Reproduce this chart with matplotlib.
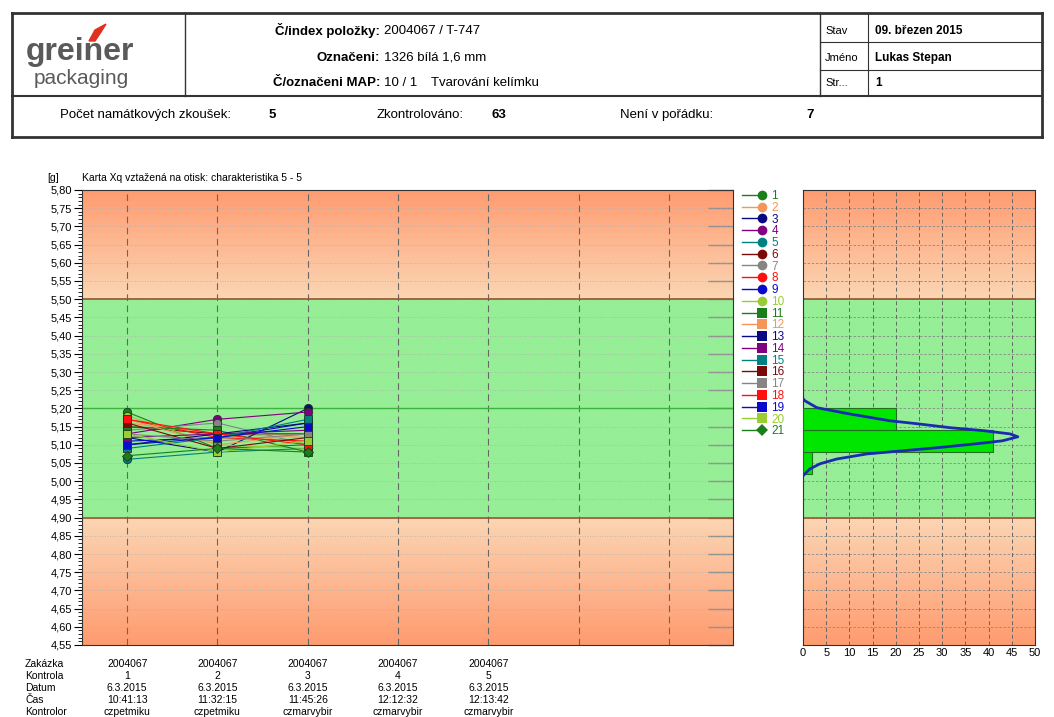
import numpy as np
import matplotlib
matplotlib.use("Agg")
import matplotlib.pyplot as plt
import matplotlib.transforms as mtransforms
from matplotlib.lines import Line2D
from matplotlib.patches import Polygon
from matplotlib.legend_handler import HandlerLine2D
from matplotlib.ticker import MultipleLocator, FixedLocator

plt.rcParams['font.family'] = ['Liberation Sans', 'DejaVu Sans']

W, H = 1054, 717

# values (weight in g per cavity, three checks)
checks = [1, 2, 3]
series_names = [str(i) for i in range(1, 22)]
series_values = [
    [5.19, 5.09, 5.10],
    [5.16, 5.13, 5.12],
    [5.12, 5.08, 5.20],
    [5.13, 5.17, 5.19],
    [5.06, 5.08, 5.09],
    [5.15, 5.13, 5.13],
    [5.14, 5.16, 5.10],
    [5.17, 5.12, 5.11],
    [5.11, 5.12, 5.16],
    [5.18, 5.10, 5.09],
    [5.15, 5.14, 5.08],
    [5.17, 5.10, 5.13],
    [5.10, 5.13, 5.16],
    [5.12, 5.13, 5.14],
    [5.09, 5.12, 5.17],
    [5.16, 5.09, 5.12],
    [5.13, 5.11, 5.13],
    [5.17, 5.13, 5.10],
    [5.10, 5.12, 5.15],
    [5.13, 5.08, 5.11],
    [5.07, 5.09, 5.08],
]
series_colors = ['#1a7f1a', '#f4965a', '#0a0a80', '#800080', '#008080', '#7a0a0a', '#858585',
                 '#ff1010', '#0a0acd', '#9acd32',
                 '#1a7f1a', '#f4965a', '#0a0a80', '#800080', '#008080', '#7a0a0a', '#858585',
                 '#ff1010', '#0a0acd', '#9acd32', '#1a7f1a']
series_markers = ['o'] * 10 + ['s'] * 10 + ['D']

# histogram of all 63 values
hist_edges = [5.02, 5.08, 5.14, 5.20]
hist_counts = [2, 41, 20]
curve_values = [5.227, 5.221, 5.202, 5.186, 5.166, 5.158, 5.147, 5.139, 5.130, 5.122,
                5.111, 5.103, 5.092, 5.083, 5.075, 5.061, 5.048, 5.034, 5.015]
curve_counts = [0.0, 0.4, 3.0, 9.5, 18.7, 24.5, 31.7, 38.8, 44.6, 46.3,
                43.0, 37.5, 28.9, 21.0, 13.8, 7.3, 3.7, 1.5, 0.0]

upper_limit = 5.50
lower_limit = 4.90
center_line = 5.20
y_min, y_max = 4.55, 5.80

# table under the chart
row_labels = ['Zakázka', 'Kontrola', 'Datum', 'Čas', 'Kontrolor']
zakazka = ['2004067'] * 5
kontrola = ['1', '2', '3', '4', '5']
datum = ['6.3.2015'] * 5
cas = ['10:41:13', '11:32:15', '11:45:26', '12:12:32', '12:13:42']
kontrolor = ['czpetmiku', 'czpetmiku', 'czmarvybir', 'czmarvybir', 'czmarvybir']


def px(x, y):
    return x / W, 1 - y / H


def hline(fig, x0, x1, y, lw=1.0, color='#333333'):
    a, b = px(x0, y)
    c, _ = px(x1, y)
    fig.add_artist(Line2D([a, c], [b, b], lw=lw, color=color))


def vline(fig, x, y0, y1, lw=1.0, color='#333333'):
    a, b = px(x, y0)
    _, d = px(x, y1)
    fig.add_artist(Line2D([a, a], [b, d], lw=lw, color=color))


def zone_background(ax, x0, x1):
    ys = np.linspace(y_min, y_max, 500)
    dark = np.array([255, 155, 112]) / 255
    light = np.array([251, 214, 180]) / 255
    green = np.array([150, 238, 150]) / 255
    img = np.zeros((len(ys), 1, 3))
    for i, y in enumerate(ys):
        if y >= upper_limit:
            t = (y - upper_limit) / (y_max - upper_limit)
            img[i, 0] = light + t * (dark - light)
        elif y <= lower_limit:
            t = (lower_limit - y) / (lower_limit - y_min)
            img[i, 0] = light + t * (dark - light)
        else:
            img[i, 0] = green
    ax.imshow(img, extent=[x0, x1, y_min, y_max], origin='lower', aspect='auto', zorder=0)
    ax.axhline(upper_limit, color='#a0522d', lw=1.2, zorder=2)
    ax.axhline(lower_limit, color='#a0522d', lw=1.2, zorder=2)


class MarkerAtEnd(HandlerLine2D):
    # legend line with the marker sitting on its right end
    def create_artists(self, legend, orig_handle, xdescent, ydescent, width, height, fontsize, trans):
        arts = super().create_artists(legend, orig_handle, xdescent, ydescent,
                                      width, height, fontsize, trans)
        line = arts[0]
        line.set_markevery([len(line.get_xdata()) - 1])
        return arts


fig = plt.figure(figsize=(W / 100, H / 100), dpi=100)

# ---------------- header ----------------
box_l, box_r, box_t, box_m, box_b = 12, 1042, 13, 96, 137
hline(fig, box_l, box_r, box_t, lw=2)
hline(fig, box_l, box_r, box_b, lw=2)
hline(fig, box_l, box_r, box_m, lw=1.5)
vline(fig, box_l, box_t, box_b, lw=2)
vline(fig, box_r, box_t, box_b, lw=2)
vline(fig, 185, box_t, box_m)
vline(fig, 820, box_t, box_m)
vline(fig, 868, box_t, box_m, lw=0.8)
hline(fig, 820, box_r, 42, lw=0.8)
hline(fig, 820, box_r, 70, lw=0.8)

fig.text(*px(26, 52), 'greiner', fontsize=23, fontweight='bold', color='#5a5a5a', va='center')
fig.text(*px(34, 78), 'packaging', fontsize=15, color='#5a5a5a', va='center')
fig.add_artist(Polygon([px(89, 41), px(95, 30), px(106, 24), px(101, 32), px(95, 41)],
                       closed=True, color='#e0301e', transform=fig.transFigure))

hdr = 9.5
for y, lab, val in [(31, 'Č/index položky:', '2004067 / T-747'),
                    (58, 'Označeni:', '1326 bílá 1,6 mm'),
                    (83, 'Č/označeni MAP:', '10 / 1')]:
    fig.text(*px(380, y), lab, fontsize=hdr, fontweight='bold', ha='right', va='center')
    fig.text(*px(384, y), val, fontsize=hdr, ha='left', va='center')
fig.text(*px(431, 83), 'Tvarování kelímku', fontsize=hdr, ha='left', va='center')

for y, lab, val in [(31, 'Stav', '09. březen 2015'),
                    (58, 'Jméno', 'Lukas Stepan'),
                    (83, 'Str...', '1')]:
    fig.text(*px(825, y), lab, fontsize=8, ha='left', va='center')
    fig.text(*px(875, y), val, fontsize=8.5, fontweight='bold', ha='left', va='center')

fig.text(*px(60, 115), 'Počet namátkových zkoušek:', fontsize=9.5, va='center')
fig.text(*px(269, 115), '5', fontsize=9.5, fontweight='bold', va='center')
fig.text(*px(377, 115), 'Zkontrolováno:', fontsize=9.5, va='center')
fig.text(*px(491, 115), '63', fontsize=9.5, fontweight='bold', va='center')
fig.text(*px(620, 115), 'Není v pořádku:', fontsize=9.5, va='center')
fig.text(*px(806, 115), '7', fontsize=9.5, fontweight='bold', va='center')

# ---------------- main control chart ----------------
ax = fig.add_axes([82 / W, 1 - 645 / H, (733 - 82) / W, (645 - 190) / H])
x_lo, x_hi = 0.5, 7.71
zone_background(ax, x_lo, x_hi)
ax.axhline(center_line, color='#3cb43c', lw=1.0, zorder=2)

for name, vals, col, mk in zip(series_names, series_values, series_colors, series_markers):
    ax.plot(checks, vals, color=col, lw=0.8, marker=mk, markersize=6 if mk != 'D' else 5,
            markeredgecolor='#1a3a1a', markeredgewidth=0.6, zorder=4, label=name)

ax.set_xlim(x_lo, x_hi)
ax.set_ylim(y_min, y_max)
ax.xaxis.set_major_locator(FixedLocator(range(1, 8)))
ax.tick_params(axis='x', length=0, labelbottom=False)
ax.grid(axis='x', color='#666666', ls=(0, (6, 4)), lw=0.8, zorder=1)
yt = np.round(np.arange(y_min, y_max + 0.001, 0.05), 2)
ax.set_yticks(yt)
ax.set_yticklabels([f'{v:.2f}'.replace('.', ',') for v in yt], fontsize=8)
ax.yaxis.set_minor_locator(MultipleLocator(0.01))
ax.tick_params(axis='y', which='major', length=6, width=0.8, pad=1)
ax.tick_params(axis='y', which='minor', length=3, width=0.6)
for v in yt:
    ax.axhline(v, color='#b0b0b0', ls=(0, (1, 2)), lw=0.6, zorder=1)
sec = ax.secondary_yaxis('right')
sec.set_yticks(yt)
sec.tick_params(direction='in', length=18, color='#8a8a8a', width=1, labelright=False)
sec.spines['right'].set_visible(False)
for s in ax.spines.values():
    s.set_color('#333333')

fig.text(*px(47, 178), '[g]', fontsize=7.5, va='center')
fig.text(*px(82, 178), 'Karta Xq vztažená na otisk: charakteristika 5 - 5', fontsize=7.5, va='center')

# table under chart
trans = mtransforms.blended_transform_factory(ax.transData, fig.transFigure)
rows = [zakazka, kontrola, datum, cas, kontrolor]
row_y = [664, 676, 688, 700, 712]
for lab, vals, y in zip(row_labels, rows, row_y):
    fig.text(*px(25, y), lab, fontsize=7.5, va='center')
    for i, v in enumerate(vals):
        ax.text(i + 1, 1 - y / H, v, transform=trans, fontsize=7.5, ha='center', va='center')

# legend
handles = [Line2D([0, 1], [0, 0], color=c, lw=1, marker=m, markersize=7 if m != 'D' else 6,
                  markeredgewidth=0)
           for c, m in zip(series_colors, series_markers)]
fig.legend(handles, series_names, loc='upper left', bbox_to_anchor=(742 / W, 1 - 190 / H),
           frameon=False, fontsize=8.5, labelcolor='linecolor', numpoints=1,
           handler_map={Line2D: MarkerAtEnd()},
           handlelength=1.7, handletextpad=0.8, labelspacing=-0.02, borderpad=0,
           borderaxespad=0)

# ---------------- histogram ----------------
ax2 = fig.add_axes([803 / W, 1 - 645 / H, (1035 - 803) / W, (645 - 190) / H])
zone_background(ax2, 0, 50)
ax2.barh(hist_edges[:-1], hist_counts, height=np.diff(hist_edges), align='edge',
         color='#00e600', edgecolor='#207020', lw=0.8, zorder=3)
ax2.plot(curve_counts, curve_values, color='#1c2ab0', lw=2, zorder=4)
ax2.set_xlim(0, 50)
ax2.set_ylim(y_min, y_max)
ax2.set_xticks(range(0, 51, 5))
ax2.tick_params(axis='x', length=0, labelsize=8, pad=2)
ax2.set_yticks(yt)
ax2.tick_params(axis='y', length=0, labelleft=False)
ax2.grid(axis='x', color='#666666', ls=(0, (4, 3)), lw=0.7, zorder=1)
for v in yt:
    ax2.axhline(v, color='#8a8a8a', ls=(0, (3, 2)), lw=0.6, zorder=1)
for s in ax2.spines.values():
    s.set_color('#333333')

fig.savefig('out.png', dpi=100)
